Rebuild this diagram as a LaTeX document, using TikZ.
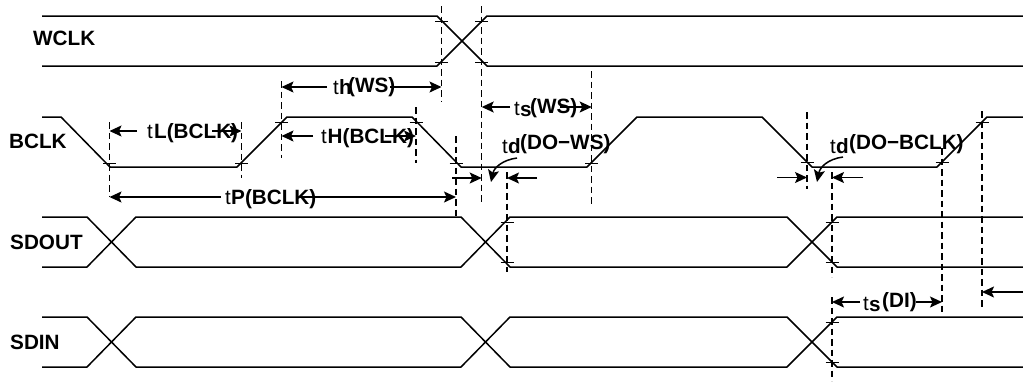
\documentclass[tikz,border=0pt]{standalone}
\usepackage{fontspec}
\setmainfont{Liberation Sans}
\usetikzlibrary{arrows.meta}
\tikzset{
  wave/.style={line width=1.5pt,line join=round},
  guide/.style={line width=1.4pt,dash pattern=on 6.5pt off 4pt},
  tick/.style={line width=1pt},
  dim/.style={line width=1.5pt,-{Stealth[length=12pt,width=11pt,inset=2.5pt]}},
  txt/.style={inner sep=0pt,anchor=base west,font=\fontsize{20.5}{21}\selectfont},
  btxt/.style={txt,font=\fontsize{20.7}{21}\selectfont\bfseries}
}
% guide: name, x, y top, y bottom
\newcommand{\guideline}[4]{\coordinate (#1) at (#2,#3); \coordinate (#1e) at (#2,#4); \draw[guide] (#1) -- (#1e);}
\newcommand{\ticks}[2]{\foreach \yy in {#2}{\draw[tick] ([xshift=-6.5pt]#1 |- 0,\yy) -- ([xshift=6.5pt]#1 |- 0,\yy);}}
\begin{document}
\begin{tikzpicture}[x=1pt,y=-1pt]
\useasboundingbox (0,0) rectangle (1023,381);
% labels
\node[btxt] (wclk) at (33,45.5) {WCLK};
\node[btxt] (bclk) at (9,148.5) {BCLK};
\node[btxt] (sdout) at (10,249.5) {SDOUT};
\node[btxt] (sdin) at (10,349.5) {SDIN};
% WCLK
\draw[wave] (42,16) -- (437,16) -- (487,66) -- (1023,66);
\draw[wave] (42,66) -- (437,66) -- (487,16) -- (1023,16);
% BCLK
\draw[wave] (42,117) -- (61,117) -- (110,167) -- (237,167) -- (287,117) -- (412,117) -- (461,167) -- (587,167) -- (637,117) -- (762,117) -- (812,167) -- (937,167) -- (987,117) -- (1023,117);
% SDOUT
\draw[wave] (42,217) -- (87,217) -- (136,267) -- (461,267) -- (510,217) -- (787,217) -- (837,267) -- (1023,267);
\draw[wave] (42,267) -- (87,267) -- (136,217) -- (461,217) -- (510,267) -- (787,267) -- (837,217) -- (1023,217);
% SDIN
\draw[wave] (42,317) -- (87,317) -- (136,367) -- (461,367) -- (510,317) -- (787,317) -- (837,367) -- (1023,367);
\draw[wave] (42,367) -- (87,367) -- (136,317) -- (461,317) -- (510,367) -- (787,367) -- (837,317) -- (1023,317);
% guides
\guideline{a}{109.5}{122}{197}
\guideline{b}{241.5}{122}{178}
\guideline{c}{281.5}{81}{158}
\guideline{d}{416}{107}{163}
\guideline{e}{441.5}{6}{102}
\guideline{f}{456}{136}{216}
\guideline{g}{481.7}{6}{203}
\guideline{h}{507}{172}{272}
\guideline{i}{591.7}{71}{207}
\guideline{j}{807}{112}{189}
\guideline{k}{832}{172}{277}
\guideline{k2}{832}{297}{381}
\guideline{m}{942}{148}{313}
\guideline{n}{982}{111}{309}
% ticks
\ticks{e}{21,62}
\ticks{g}{21,62}
\ticks{a}{163}
\ticks{b}{163}
\ticks{c}{122}
\ticks{d}{122}
\ticks{f}{163}
\ticks{i}{163}
\ticks{j}{162}
\ticks{m}{162}
\ticks{n}{122}
\ticks{h}{222,262}
\ticks{k}{222,262}
\ticks{k2}{322,362}
% dimension arrows
\coordinate (p1) at (137,131); \draw[dim] (p1) -- (a |- p1);
\coordinate (p2) at (212,131); \draw[dim] (p2) -- (b |- p2);
\coordinate (p3) at (221,197); \draw[dim] (p3) -- (a |- p3);
\coordinate (p4) at (300,197); \draw[dim] (p4) -- (f |- p4);
\coordinate (p5) at (313,136); \draw[dim] (p5) -- (c |- p5);
\coordinate (p6) at (385,136); \draw[dim] (p6) -- (d |- p6);
\coordinate (p7) at (327,87); \draw[dim] (p7) -- (c |- p7);
\coordinate (p8) at (390,87); \draw[dim] (p8) -- (e |- p8);
\coordinate (p9) at (510,107); \draw[dim] (p9) -- (g |- p9);
\coordinate (p10) at (560,107); \draw[dim] (p10) -- (i |- p10);
\coordinate (p11) at (452,178); \draw[dim] (p11) -- (g |- p11);
\coordinate (p12) at (537,178); \draw[dim] (p12) -- (h |- p12);
\coordinate (p13) at (777,177.5); \draw[dim] (p13) -- (j |- p13);
\coordinate (p14) at (863,177.5); \draw[dim] (p14) -- (k |- p14);
\coordinate (p15) at (860,302); \draw[dim] (p15) -- (k |- p15);
\coordinate (p16) at (916,302); \draw[dim] (p16) -- (m |- p16);
\coordinate (p17) at (1023,292); \draw[dim] (p17) -- (n |- p17);
% curved arrows
\coordinate (q1) at (517,158); \coordinate (q2) at (491,182);
\draw[dim] (q1) .. controls (502,160) and (494,168) .. (q2);
\coordinate (q3) at (843,157); \coordinate (q4) at (817,182);
\draw[dim] (q3) .. controls (828,159) and (820,167) .. (q4);
% timing labels
\node[txt] (l1a) at (147,138) {t}; \node[btxt] (l1b) at (154,138) {L(BCLK)};
\node[txt] (l2a) at (225,204) {t}; \node[btxt] (l2b) at (231,204) {P(BCLK)};
\node[txt] (l3a) at (321,143) {t}; \node[btxt] (l3b) at (327.5,143) {H(BCLK)};
\node[txt] (l4a) at (333,94) {t}; \node[btxt] (l4b) at (339,94) {h};
\node[btxt] (l4c) at (348,92) {(WS)};
\node[txt] (l5a) at (514,115) {t}; \node[btxt] (l5b) at (520,116) {s};
\node[btxt] (l5c) at (530,113) {(WS)};
\node[txt] (l6a) at (502,153) {t}; \node[btxt] (l6b) at (508,153) {d};
\node[btxt] (l6c) at (520,149) {(DO−WS)};
\node[txt] (l7a) at (830,153) {t}; \node[btxt] (l7b) at (836,153) {d};
\node[btxt] (l7c) at (849,149) {(DO−BCLK)};
\node[txt] (l8a) at (863,310) {t}; \node[btxt] (l8b) at (869,311) {s};
\node[btxt] (l8c) at (882,307) {(DI)};
\end{tikzpicture}
\end{document}
